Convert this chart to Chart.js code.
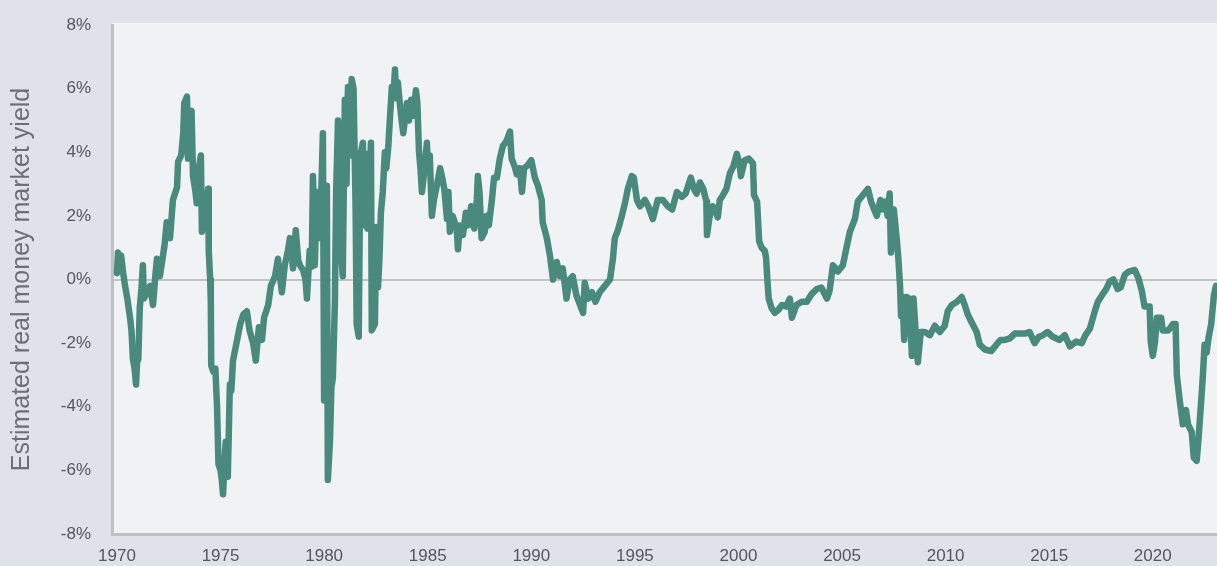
<!DOCTYPE html>
<html>
<head>
<meta charset="utf-8">
<script src="https://cdn.jsdelivr.net/npm/chart.js@4/dist/chart.umd.min.js"></script>
<style>
  html, body { margin: 0; padding: 0; background: #DFE2E9; }
  #wrap { width: 1217px; height: 566px; position: relative; }
</style>
</head>
<body>
<div id="wrap"><canvas id="yieldCanvas"></canvas></div>
<script>
// decimal years
const dates = [
  1970.00, 1970.05, 1970.12, 1970.20, 1970.30, 1970.39, 1970.50, 1970.63, 1970.70, 1970.77,
  1970.85, 1970.92, 1970.97, 1971.03, 1971.10, 1971.18, 1971.25, 1971.30, 1971.45, 1971.60,
  1971.74, 1971.85, 1971.93, 1972.07, 1972.20, 1972.30, 1972.40, 1972.48, 1972.56, 1972.70,
  1972.90, 1972.95, 1973.10, 1973.20, 1973.25, 1973.38, 1973.43, 1973.50, 1973.60, 1973.67,
  1973.78, 1973.85, 1973.95, 1974.05, 1974.10, 1974.20, 1974.35, 1974.40, 1974.43, 1974.50,
  1974.53, 1974.55, 1974.65, 1974.75, 1974.83, 1974.90, 1975.00, 1975.06, 1975.12, 1975.20,
  1975.25, 1975.35, 1975.45, 1975.52, 1975.60, 1975.80, 1975.95, 1976.10, 1976.27, 1976.40,
  1976.57, 1976.70, 1976.85, 1977.00, 1977.10, 1977.30, 1977.43, 1977.63, 1977.77, 1977.96,
  1978.10, 1978.25, 1978.35, 1978.50, 1978.63, 1978.75, 1978.83, 1978.98, 1979.10, 1979.17,
  1979.30, 1979.40, 1979.46, 1979.55, 1979.65, 1979.80, 1979.94, 1980.00, 1980.06, 1980.13,
  1980.18, 1980.28, 1980.35, 1980.42, 1980.52, 1980.58, 1980.67, 1980.75, 1980.90, 1981.00,
  1981.08, 1981.15, 1981.24, 1981.33, 1981.42, 1981.52, 1981.57, 1981.67, 1981.75, 1981.87,
  1981.95, 1982.02, 1982.10, 1982.26, 1982.30, 1982.45, 1982.52, 1982.60, 1982.67, 1982.74,
  1982.83, 1982.93, 1983.00, 1983.10, 1983.17, 1983.27, 1983.35, 1983.42, 1983.48, 1983.56,
  1983.65, 1983.75, 1983.82, 1984.00, 1984.10, 1984.20, 1984.30, 1984.43, 1984.50, 1984.58,
  1984.65, 1984.72, 1984.85, 1984.96, 1985.02, 1985.10, 1985.20, 1985.30, 1985.44, 1985.60,
  1985.70, 1985.80, 1985.93, 1986.00, 1986.07, 1986.20, 1986.40, 1986.46, 1986.55, 1986.70,
  1986.84, 1986.95, 1987.10, 1987.25, 1987.37, 1987.42, 1987.50, 1987.60, 1987.75, 1987.85,
  1987.95, 1988.10, 1988.20, 1988.34, 1988.48, 1988.63, 1988.80, 1988.97, 1989.05, 1989.20,
  1989.30, 1989.45, 1989.55, 1989.65, 1989.84, 1990.00, 1990.17, 1990.32, 1990.50, 1990.55,
  1990.75, 1990.90, 1991.05, 1991.23, 1991.38, 1991.52, 1991.70, 1991.85, 1992.00, 1992.18,
  1992.35, 1992.50, 1992.58, 1992.75, 1992.93, 1993.10, 1993.30, 1993.55, 1993.80, 1993.94,
  1994.03, 1994.18, 1994.37, 1994.52, 1994.66, 1994.85, 1994.95, 1995.10, 1995.25, 1995.48,
  1995.65, 1995.87, 1996.10, 1996.35, 1996.60, 1996.80, 1997.03, 1997.27, 1997.45, 1997.70,
  1997.85, 1997.98, 1998.14, 1998.30, 1998.45, 1998.48, 1998.60, 1998.76, 1998.90, 1999.00,
  1999.10, 1999.25, 1999.42, 1999.59, 1999.75, 1999.92, 2000.05, 2000.12, 2000.30, 2000.50,
  2000.70, 2000.75, 2000.90, 2001.00, 2001.12, 2001.27, 2001.33, 2001.40, 2001.46, 2001.60,
  2001.76, 2001.93, 2002.10, 2002.30, 2002.48, 2002.58, 2002.80, 2003.05, 2003.30, 2003.54,
  2003.78, 2004.00, 2004.27, 2004.40, 2004.56, 2004.80, 2005.04, 2005.23, 2005.38, 2005.62,
  2005.76, 2006.00, 2006.25, 2006.40, 2006.55, 2006.68, 2006.85, 2006.98, 2007.10, 2007.20,
  2007.30, 2007.36, 2007.50, 2007.65, 2007.72, 2007.80, 2007.85, 2007.92, 2008.00, 2008.10,
  2008.25, 2008.37, 2008.45, 2008.55, 2008.66, 2008.80, 2009.00, 2009.24, 2009.48, 2009.72,
  2009.96, 2010.10, 2010.30, 2010.55, 2010.78, 2010.92, 2011.07, 2011.26, 2011.50, 2011.65,
  2011.90, 2012.20, 2012.45, 2012.65, 2012.86, 2013.10, 2013.34, 2013.58, 2013.82, 2014.05,
  2014.30, 2014.50, 2014.70, 2014.92, 2015.17, 2015.50, 2015.75, 2016.00, 2016.30, 2016.57,
  2016.75, 2016.96, 2017.20, 2017.35, 2017.59, 2017.75, 2017.93, 2018.10, 2018.30, 2018.45,
  2018.65, 2018.84, 2019.13, 2019.30, 2019.47, 2019.60, 2019.85, 2019.90, 2020.00, 2020.10,
  2020.20, 2020.40, 2020.48, 2020.75, 2020.97, 2021.10, 2021.16, 2021.30, 2021.45, 2021.60,
  2021.70, 2021.88, 2021.98, 2022.12, 2022.22, 2022.36, 2022.42, 2022.50, 2022.60, 2022.70,
  2022.82, 2022.95, 2023.05
];

// estimated real money market yield, %
const yields = [
  0.2, 0.85, 0.6, 0.75, 0.2, -0.2, -0.6, -1.2, -1.6, -2.5,
  -2.8, -3.3, -2.6, -2.5, -0.9, -0.3, 0.45, -0.6, -0.4, -0.2,
  -0.8, 0.1, 0.65, 0.1, 0.65, 1.1, 1.8, 1.5, 1.3, 2.5,
  2.9, 3.7, 3.9, 4.6, 5.55, 5.75, 3.8, 4.8, 5.3, 3.25,
  2.8, 2.4, 3.5, 3.9, 1.5, 2.2, 2.4, 2.85, 0.9, 0.0,
  -0.7, -2.7, -2.9, -2.8, -4.0, -5.8, -6.0, -6.3, -6.75, -5.6,
  -5.1, -6.2, -3.3, -3.5, -2.55, -1.9, -1.4, -1.1, -1.0, -1.6,
  -2.0, -2.55, -1.5, -1.9, -1.2, -0.8, -0.2, 0.1, 0.65, -0.4,
  0.45, 0.9, 1.3, 0.35, 1.55, 0.6, 0.45, 0.3, 0.0, -0.6,
  0.9, 0.4, 3.25, 0.45, 2.75, 1.3, 4.6, -3.8, 1.5, 2.95,
  -6.3, -5.1, -3.4, -3.1, -0.7, 2.75, 5.0, 1.5, 0.1, 5.65,
  3.0, 6.05, 3.9, 6.3, 6.0, 2.2, -1.4, -1.8, 3.9, 4.3,
  1.7, 3.95, 1.6, 4.3, -1.6, -1.4, 1.65, -0.25, 0.65, 2.1,
  2.75, 4.0, 3.5, 4.2, 5.0, 6.05, 5.8, 6.6, 5.7, 6.2,
  5.55, 4.95, 4.6, 5.55, 5.0, 5.65, 5.15, 5.95, 5.55, 4.0,
  3.5, 2.75, 3.5, 4.3, 3.4, 3.9, 2.0, 2.5, 2.95, 3.5,
  3.2, 2.85, 1.9, 2.75, 1.5, 2.0, 1.6, 0.95, 1.7, 1.4,
  2.1, 1.7, 2.3, 1.6, 2.5, 3.25, 2.75, 1.3, 1.5, 2.0,
  1.7, 2.5, 3.2, 3.2, 3.8, 4.2, 4.35, 4.65, 3.8, 3.55,
  3.3, 3.5, 2.75, 3.5, 3.6, 3.75, 3.2, 2.95, 2.5, 1.8,
  1.3, 0.75, 0.0, 0.55, 0.1, 0.35, -0.6, 0.0, 0.1, -0.5,
  -0.8, -1.05, -0.1, -0.6, -0.4, -0.7, -0.4, -0.2, 0.0, 0.65,
  1.3, 1.55, 2.0, 2.4, 2.85, 3.25, 3.2, 2.5, 2.3, 2.5,
  2.3, 1.9, 2.5, 2.5, 2.3, 2.2, 2.75, 2.6, 2.7, 3.2,
  2.85, 2.7, 3.05, 2.85, 2.45, 1.4, 1.95, 2.3, 2.2, 1.95,
  2.5, 2.65, 2.85, 3.35, 3.55, 3.95, 3.65, 3.25, 3.75, 3.8,
  3.65, 2.65, 2.45, 1.2, 1.0, 0.9, 0.7, -0.05, -0.6, -0.9,
  -1.05, -0.95, -0.8, -0.85, -0.6, -1.2, -0.8, -0.7, -0.7, -0.45,
  -0.3, -0.25, -0.6, -0.35, 0.45, 0.25, 0.45, 1.05, 1.5, 1.9,
  2.45, 2.65, 2.85, 2.45, 2.2, 2.0, 2.5, 2.2, 2.45, 2.0,
  2.7, 0.85, 2.2, 1.2, 0.65, -0.2, -1.15, -0.55, -1.9, -0.55,
  -0.6, -2.4, -0.6, -1.6, -2.6, -1.65, -1.65, -1.75, -1.45, -1.65,
  -1.45, -1.0, -0.8, -0.7, -0.55, -0.8, -1.1, -1.35, -1.65, -2.05,
  -2.2, -2.25, -2.05, -1.9, -1.9, -1.85, -1.7, -1.7, -1.7, -1.65,
  -2.0, -1.8, -1.75, -1.65, -1.8, -1.9, -1.75, -2.1, -1.95, -2.0,
  -1.75, -1.55, -1.0, -0.7, -0.45, -0.3, -0.05, 0.0, -0.3, -0.25,
  0.15, 0.25, 0.3, 0.05, -0.35, -0.85, -0.85, -1.95, -2.4, -2.0,
  -1.2, -1.2, -1.6, -1.6, -1.4, -1.4, -3.0, -3.8, -4.55, -4.1,
  -4.55, -4.8, -5.6, -5.7, -4.9, -3.6, -3.0, -2.05, -2.3, -1.8,
  -1.4, -0.5, -0.2
];

const yearTicks = [1970, 1975, 1980, 1985, 1990, 1995, 2000, 2005, 2010, 2015, 2020];
const pctTicks = [-8, -6, -4, -2, 0, 2, 4, 6, 8];

// fond gris clair de la zone de trace
const plotBackground = {
  id: "plotBackground",
  beforeDraw(chart) {
    const { ctx, chartArea } = chart;
    ctx.save();
    ctx.fillStyle = "#F1F2F6";
    ctx.fillRect(chartArea.left, chartArea.top - 2, chartArea.right - chartArea.left, chartArea.bottom - chartArea.top + 2);
    ctx.restore();
  }
};

const tickFont = { family: "'Liberation Sans', Arial, sans-serif", size: 17 };

new Chart(document.getElementById("yieldCanvas"), {
  type: "line",
  data: {
    datasets: [{
      label: "Estimated real money market yield",
      data: dates.map((d, i) => ({ x: d, y: yields[i] })),
      borderColor: "#4A8A7C",
      borderWidth: 6.5,
      borderJoinStyle: "round",
      borderCapStyle: "round",
      pointRadius: 0,
      tension: 0,
      fill: false
    }]
  },
  options: {
    responsive: true,
    maintainAspectRatio: false,
    animation: false,
    layout: { padding: { top: 25, right: 0, left: 0, bottom: 0 } },
    plugins: {
      legend: { display: false },
      tooltip: { enabled: false }
    },
    scales: {
      x: {
        type: "linear",
        min: 1969.76,
        max: 2023.1,
        afterBuildTicks: axis => { axis.ticks = yearTicks.map(v => ({ value: v })); },
        afterFit: scale => { scale.height = 32; scale.paddingLeft = 0; scale.paddingRight = 0; },
        grid: { display: false, drawTicks: false },
        border: { display: true, color: "#BFC0C3", width: 3 },
        ticks: {
          font: tickFont,
          color: "#53575E",
          padding: 12,
          maxRotation: 0,
          callback: v => String(v)
        }
      },
      y: {
        min: -8,
        max: 8,
        afterBuildTicks: axis => { axis.ticks = pctTicks.map(v => ({ value: v })); },
        afterFit: scale => { scale.width = 112; scale.paddingTop = 0; scale.paddingBottom = 0; },
        grid: {
          drawTicks: false,
          color: ctx => (ctx.tick && ctx.tick.value === 0 ? "#C2C3C5" : "rgba(0,0,0,0)"),
          lineWidth: ctx => (ctx.tick && ctx.tick.value === 0 ? 2 : 0)
        },
        border: { display: true, color: "#BFC0C3", width: 3 },
        ticks: {
          font: tickFont,
          color: "#53575E",
          padding: 21,
          callback: v => v + "%"
        },
        title: {
          display: true,
          text: "Estimated real money market yield",
          color: "#6C7076",
          font: { family: "'Liberation Sans', Arial, sans-serif", size: 25 },
          padding: { top: 7, bottom: 0 }
        }
      }
    }
  },
  plugins: [plotBackground]
});
</script>
</body>
</html>
